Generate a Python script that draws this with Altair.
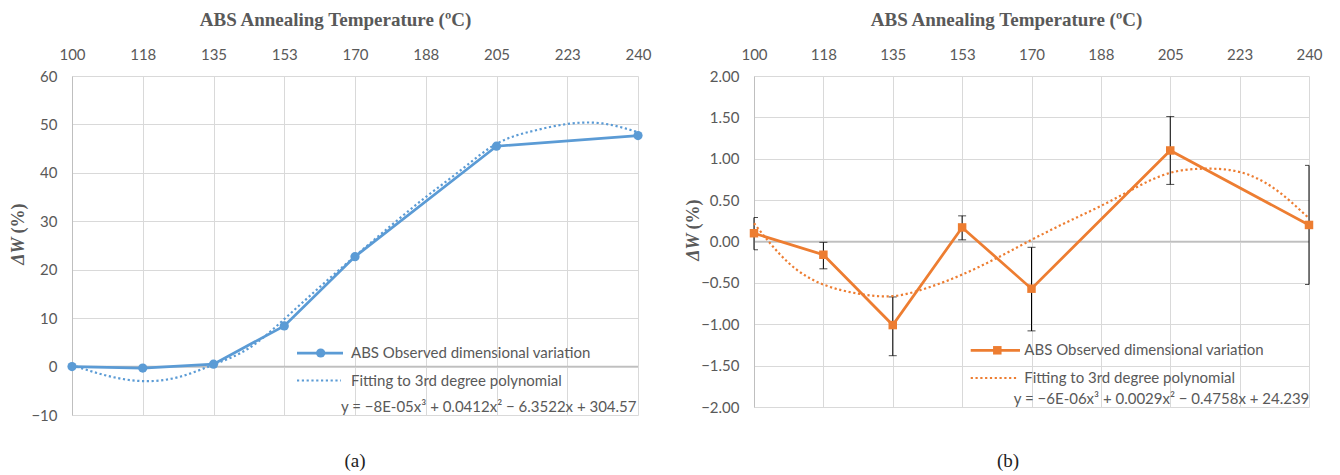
import altair as alt
import pandas as pd

# ---------------- data ----------------
temps = [100, 117.5, 135, 152.5, 170, 205, 240]
fit_temps = [100, 108.75, 117.5, 126.25, 135, 143.75, 152.5, 161.25, 170,
             178.75, 187.5, 196.25, 205, 213.75, 222.5, 231.25, 240]
x_ticks = [100, 117.5, 135, 152.5, 170, 187.5, 205, 222.5, 240]

# (a) ABS observed dimensional variation and its cubic trend line
a_obs = [0.0, -0.3, 0.5, 8.4, 22.7, 45.5, 47.7]
a_fit = [0.3, -1.9, -3.0, -2.2, 0.4, 3.8, 9.8, 16.4, 22.8, 29.0, 35.0, 40.6,
         46.0, 48.6, 50.1, 50.2, 48.4]
a_y_ticks = [-10, 0, 10, 20, 30, 40, 50, 60]

# (b) with error bars
b_obs = [0.10, -0.16, -1.01, 0.17, -0.57, 1.10, 0.20]
b_err_hi = [0.29, -0.01, -0.67, 0.31, -0.07, 1.51, 0.92]
b_err_lo = [-0.10, -0.33, -1.38, 0.02, -1.08, 0.69, -0.52]
b_fit = [0.22, -0.26, -0.52, -0.63, -0.66, -0.56, -0.40, -0.20, 0.02, 0.23,
         0.43, 0.65, 0.83, 0.88, 0.84, 0.64, 0.28]
b_y_ticks = [-2.0, -1.5, -1.0, -0.5, 0.0, 0.5, 1.0, 1.5, 2.0]

series_obs = "ABS Observed dimensional variation"
series_fit = "Fitting to 3rd degree polynomial"
eq_a = "y = \u22128E-05x\u00b3 + 0.0412x\u00b2 \u2212 6.3522x + 304.57"
eq_b = "y = \u22126E-06x\u00b3 + 0.0029x\u00b2 \u2212 0.4758x + 24.239"
x_title = "ABS Annealing Temperature (\u00baC)"
y_title_a = "\u0394W"
y_title_b = "(%)"

BLUE = "#5B9BD5"
ORANGE = "#ED7D31"
GRID = "#d9d9d9"
AXIS = "#bfbfbf"
TXT = "#595959"
SANS = "Lato"
SERIF = "Liberation Serif"


def panel(obs, fit, y_dom, y_ticks, y_fmt, color, shape, msize, w, h,
          xtitle_x, ytitle_x, leg, eq, caption, cap_x, err=None):
    obs_df = pd.DataFrame({"t": temps, "v": obs})
    fit_df = pd.DataFrame({"t": fit_temps, "v": fit})

    xs = alt.Scale(domain=[100, 240], nice=False, zero=False)
    ys = alt.Scale(domain=y_dom, nice=False, zero=False)
    x_axis = alt.Axis(orient="top", values=x_ticks,
                      labelExpr="format(datum.value, '.0f')",
                      grid=True, gridColor=GRID, gridWidth=1,
                      domain=False, ticks=False, labelFlush=False,
                      labelFont=SANS, labelFontSize=15, labelColor=TXT,
                      labelPadding=14,
                      title=x_title, titleFont=SERIF, titleFontSize=19,
                      titleFontWeight="bold", titleColor=TXT,
                      titleX=xtitle_x, titleY=-57, titleAlign="center",
                      titleBaseline="middle", titleAngle=0)
    y_axis = alt.Axis(values=y_ticks, format=y_fmt, grid=True, gridColor=GRID,
                      gridWidth=1, domain=True, domainColor=AXIS, domainWidth=1,
                      ticks=False, labelFlush=False, labelFont=SANS,
                      labelFontSize=15, labelColor=TXT, labelPadding=15,
                      title=None)
    X = alt.X("t:Q", scale=xs, axis=x_axis)

    zero = alt.Chart(pd.DataFrame({"z": [0]})).mark_rule(
        color=AXIS, strokeWidth=1.5).encode(
        y=alt.Y("z:Q", scale=ys, axis=y_axis))

    layers = [zero]
    if err is not None:
        err_df = pd.DataFrame({"t": temps, "lo": err[0], "hi": err[1]})
        layers.append(alt.Chart(err_df).mark_rule(color="black", strokeWidth=1).encode(
            x=X, y=alt.Y("lo:Q", scale=ys, axis=y_axis), y2="hi:Q"))
        layers.append(alt.Chart(err_df).mark_tick(
            color="black", thickness=1, size=8, orient="horizontal", clip=True).encode(
            x=X, y=alt.Y("lo:Q", scale=ys, axis=y_axis)))
        layers.append(alt.Chart(err_df).mark_tick(
            color="black", thickness=1, size=8, orient="horizontal", clip=True).encode(
            x=X, y=alt.Y("hi:Q", scale=ys, axis=y_axis)))

    layers.append(alt.Chart(obs_df).mark_line(color=color, strokeWidth=2.75).encode(
        x=X, y=alt.Y("v:Q", scale=ys, axis=y_axis)))
    layers.append(alt.Chart(obs_df).mark_point(
        filled=True, opacity=1, color=color, shape=shape, size=msize).encode(
        x=X, y=alt.Y("v:Q", scale=ys, axis=y_axis)))
    layers.append(alt.Chart(fit_df).mark_line(
        color=color, strokeWidth=2.2, strokeDash=[2.2, 2.6],
        interpolate="natural").encode(
        x=X, y=alt.Y("v:Q", scale=ys, axis=y_axis)))

    # legend (inside plot, bottom right), y-axis title, caption
    lx0, lx1, lmx, ltx, r1, r2, r3, eqx = leg
    one = pd.DataFrame({"k": [series_obs], "f": [series_fit], "e": [eq],
                        "c": [caption], "ya": [y_title_a], "yb": [y_title_b]})
    base = alt.Chart(one)
    layers += [
        base.mark_rule(color=color, strokeWidth=2.75).encode(
            x=alt.value(lx0), x2=alt.value(lx1), y=alt.value(r1)),
        base.mark_point(filled=True, opacity=1, color=color, shape=shape,
                        size=msize).encode(x=alt.value(lmx), y=alt.value(r1)),
        base.mark_text(align="left", baseline="middle", font=SANS, fontSize=15,
                       color=TXT).encode(x=alt.value(ltx), y=alt.value(r1), text="k:N"),
        base.mark_rule(color=color, strokeWidth=2.2, strokeDash=[2.2, 2.6]).encode(
            x=alt.value(lx0), x2=alt.value(lx1 - 2), y=alt.value(r2)),
        base.mark_text(align="left", baseline="middle", font=SANS, fontSize=15,
                       color=TXT).encode(x=alt.value(ltx), y=alt.value(r2), text="f:N"),
        base.mark_text(align="right", baseline="middle", font=SANS, fontSize=15,
                       color=TXT).encode(x=alt.value(eqx), y=alt.value(r3), text="e:N"),
        base.mark_text(align="center", baseline="middle", font=SERIF, fontSize=19,
                       color="#222222").encode(x=alt.value(cap_x), y=alt.value(462 - 77),
                                               text="c:N"),
        # y-axis title: italic "ΔW" followed by upright "(%)"
        base.mark_text(align="right", baseline="middle", font=SERIF, fontSize=18,
                       fontWeight="bold", fontStyle="italic", angle=270,
                       color=TXT).encode(x=alt.value(ytitle_x),
                                         y=alt.value(h / 2 - 8), text="ya:N"),
        base.mark_text(align="left", baseline="middle", font=SERIF, fontSize=18,
                       fontWeight="bold", angle=270,
                       color=TXT).encode(x=alt.value(ytitle_x),
                                         y=alt.value(h / 2 - 12), text="yb:N"),
    ]
    return alt.layer(*layers).properties(width=w, height=h)


pa = panel(a_obs, a_fit, [-10, 60], a_y_ticks, "d", BLUE, "circle", 85, 566, 339,
           335 - 72, 19 - 72,
           (225, 271, 248.7, 279, 277, 304.5, 330.5, 564.5), eq_a, "(a)", 355 - 72)
pb = panel(b_obs, b_fit, [-2, 2], b_y_ticks, ".2f", ORANGE, "square", 72, 555, 331,
           1006 - 754, 694 - 754,
           (216.7, 266, 243.3, 270.3, 274.3, 302, 323, 555.3), eq_b, "(b)", 1008 - 754,
           err=(b_err_lo, b_err_hi))

chart = alt.hconcat(pa, pb, spacing=116, bounds="flush").properties(
    padding={"left": 10, "top": 10, "right": 0, "bottom": 0},
    background="white",
).configure_view(stroke=None)

chart.save("out.html", embed_options={"renderer": "svg", "actions": False})
